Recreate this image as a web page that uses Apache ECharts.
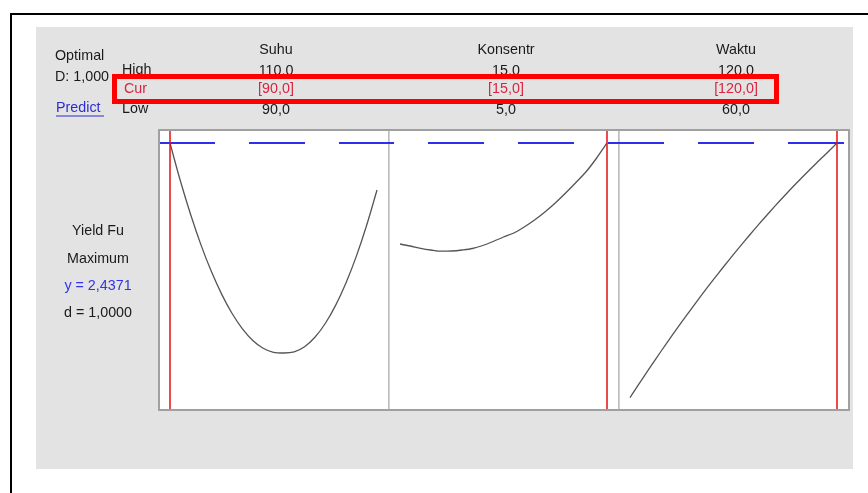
<!DOCTYPE html>
<html><head><meta charset="utf-8">
<script src="https://cdn.jsdelivr.net/npm/echarts@6/dist/echarts.min.js"></script>
<style>html,body{margin:0;padding:0;background:#fff}#c{width:868px;height:493px}</style>
</head><body><div id="c"></div>
<script>
// ---- data ----
const factorNames = ['Suhu', 'Konsentr', 'Waktu'];
const highLabels = ['110,0', '15,0', '120,0'];
const curLabels = ['[90,0]', '[15,0]', '[120,0]'];
const lowLabels = ['90,0', '5,0', '60,0'];
const lowValues = [90, 5, 60];
const highValues = [110, 15, 120];
const curValues = [90, 15, 120];
const optimalY = 2.4371;
const responseName = 'Yield Fu';
const goalText = 'Maximum';
const yText = 'y = 2,4371';
const dText = 'd = 1,0000';
const optimalText = 'Optimal';
const dTotalText = 'D: 1,000';

const suhuX = [90, 91, 92, 93, 94, 95, 96, 97, 98, 99, 100, 101, 102, 103, 104, 105, 106, 107, 108, 109, 110];
const suhuY = [2.4371, 2.0919, 1.7816, 1.5050, 1.2632, 1.0551, 0.8808, 0.7411, 0.6352, 0.5641, 0.5266,
               0.5202, 0.5303, 0.5768, 0.6635, 0.7895, 0.9547, 1.1591, 1.4019, 1.6858, 2.0079];
const konsX = [5, 5.5, 6, 6.5, 7, 7.5, 8, 8.5, 9, 9.5, 10, 10.5, 11, 11.5, 12, 12.5, 13, 13.5, 14, 14.5, 15];
const konsY = [1.5151, 1.4968, 1.4758, 1.4603, 1.4494, 1.4512, 1.4603, 1.4740, 1.5014, 1.5379, 1.5790,
               1.6155, 1.6702, 1.7341, 1.8071, 1.8893, 1.9806, 2.0764, 2.1768, 2.3000, 2.4371];
const waktuX = [60, 63, 66, 69, 72, 75, 78, 81, 84, 87, 90, 93, 96, 99, 102, 105, 108, 111, 114, 117, 120];
const waktuY = [0.1127, 0.2568, 0.3980, 0.5362, 0.6715, 0.8036, 0.9329, 1.0593, 1.1826, 1.3030, 1.4203,
                1.5347, 1.6462, 1.7547, 1.8603, 1.9628, 2.0622, 2.1589, 2.2525, 2.3433, 2.4371];
const yMin = 0, yMax = 2.5556;

// ---- chart ----
const curvesX = [suhuX, konsX, waktuX];
const curvesY = [suhuY, konsY, waktuY];
const FONT = '14.3px "Liberation Sans", Arial, sans-serif';
const TXT = '#1a1a1a';
const RED_T = '#d8253f';
const BLUE_T = '#3232e6';
const plotLeft = 159, plotTop = 130, panelW = 230, plotH = 280;
const dashOffsets = [0, 51, 11];

const grids = [], xAxes = [], yAxes = [], series = [];
for (let i = 0; i < 3; i++) {
  const span = highValues[i] - lowValues[i];
  grids.push({left: plotLeft + i * panelW, top: plotTop, width: panelW, height: plotH,
    show: true, backgroundColor: '#ffffff', borderColor: '#a6a6a6', borderWidth: 1});
  xAxes.push({type: 'value', gridIndex: i, show: false,
    min: lowValues[i] - span * 11 / 207, max: highValues[i] + span * 12 / 207});
  yAxes.push({type: 'value', gridIndex: i, show: false, min: yMin, max: yMax});
  series.push({
    type: 'line', xAxisIndex: i, yAxisIndex: i, showSymbol: false, smooth: 0.3, silent: true,
    data: curvesX[i].map((x, k) => [x, curvesY[i][k]]),
    lineStyle: {color: '#555555', width: 1.3},
    markLine: {
      silent: true, symbol: 'none', label: {show: false}, animation: false,
      data: [
        {yAxis: optimalY, lineStyle: {color: '#2e2ef0', width: 2.2, type: [56, 34], dashOffset: dashOffsets[i]}},
        {xAxis: curValues[i], lineStyle: {color: '#e01010', width: 1.5, type: 'solid'}}
      ]
    }
  });
}

const graphic = [
  {type: 'rect', z: -100, shape: {x: 36, y: 27, width: 817, height: 442}, style: {fill: '#e3e3e3'}},
  {type: 'rect', z: 100, shape: {x: 11, y: 14, width: 900, height: 520}, style: {fill: 'none', stroke: '#000', lineWidth: 2}},
  {type: 'rect', z: 100, shape: {x: plotLeft, y: plotTop, width: panelW * 3, height: plotH}, style: {fill: 'none', stroke: '#a0a0a0', lineWidth: 2}},
  {type: 'text', z: 100, style: {text: optimalText, x: 55, y: 56, font: FONT, fill: TXT, textVerticalAlign: 'middle'}},
  {type: 'text', z: 100, style: {text: dTotalText, x: 55, y: 77, font: FONT, fill: TXT, textVerticalAlign: 'middle'}},
  {type: 'text', z: 100, style: {text: 'Predict', x: 56, y: 108, font: FONT, fill: '#2d2dd2', textVerticalAlign: 'middle'}},
  {type: 'line', z: 100, shape: {x1: 56, y1: 116, x2: 104, y2: 116}, style: {stroke: '#2d2dd2', lineWidth: 1}},
  {type: 'text', z: 100, style: {text: 'High', x: 122, y: 70, font: FONT, fill: TXT, textVerticalAlign: 'middle'}},
  {type: 'text', z: 100, style: {text: 'Cur', x: 124, y: 89, font: FONT, fill: RED_T, textVerticalAlign: 'middle'}},
  {type: 'text', z: 100, style: {text: 'Low', x: 122, y: 109, font: FONT, fill: TXT, textVerticalAlign: 'middle'}},
  {type: 'text', z: 100, style: {text: responseName, x: 98, y: 231, font: FONT, fill: TXT, textAlign: 'center', textVerticalAlign: 'middle'}},
  {type: 'text', z: 100, style: {text: goalText, x: 98, y: 259, font: FONT, fill: TXT, textAlign: 'center', textVerticalAlign: 'middle'}},
  {type: 'text', z: 100, style: {text: yText, x: 98, y: 286, font: FONT, fill: BLUE_T, textAlign: 'center', textVerticalAlign: 'middle'}},
  {type: 'text', z: 100, style: {text: dText, x: 98, y: 313, font: FONT, fill: TXT, textAlign: 'center', textVerticalAlign: 'middle'}}
];
for (let i = 0; i < 3; i++) {
  const cx = plotLeft + i * panelW + panelW / 2 + 2;
  const rows = [[factorNames[i], 50, TXT], [highLabels[i], 71, TXT], [curLabels[i], 89, RED_T], [lowLabels[i], 110, TXT]];
  rows.forEach(r => graphic.push({type: 'text', z: 100,
    style: {text: r[0], x: cx, y: r[1], font: FONT, fill: r[2], textAlign: 'center', textVerticalAlign: 'middle'}}));
}
graphic.push({type: 'rect', z: 200, shape: {x: 114.5, y: 76.5, width: 662, height: 25},
  style: {fill: 'none', stroke: '#ff0000', lineWidth: 5}});

const chart = echarts.init(document.getElementById('c'), null, {renderer: 'canvas'});
chart.setOption({
  animation: false,
  backgroundColor: '#ffffff',
  grid: grids, xAxis: xAxes, yAxis: yAxes, series: series, graphic: graphic
});
</script></body></html>
